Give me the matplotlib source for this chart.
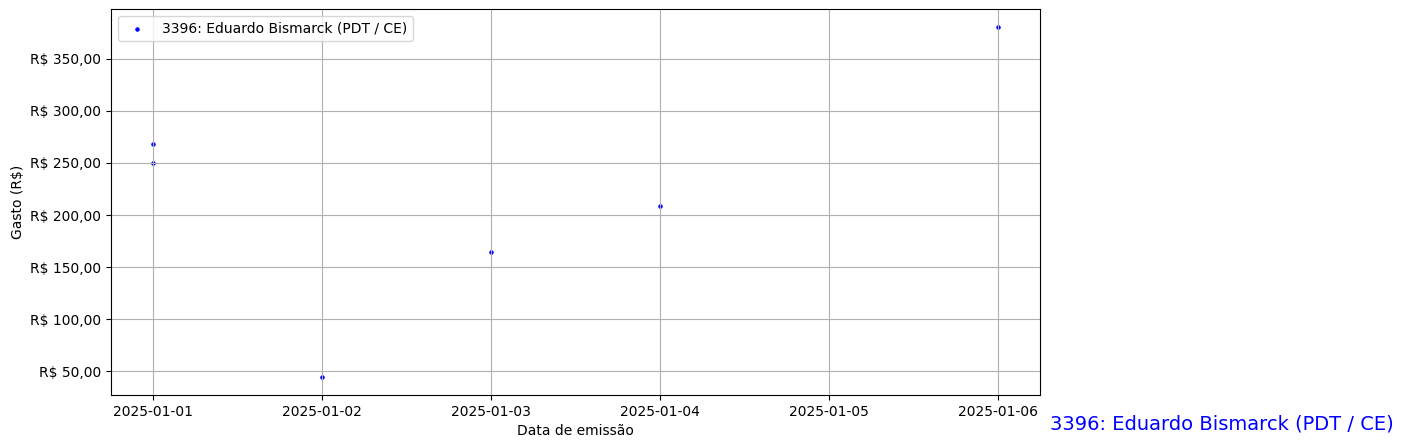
import numpy as np
import pandas as pd
import matplotlib
matplotlib.use('Agg')
import matplotlib.pyplot as plt
import matplotlib.dates as mdates
from matplotlib.ticker import FuncFormatter

deputado = '3396: Eduardo Bismarck (PDT / CE)'
datas = pd.to_datetime(['2025-01-01', '2025-01-01', '2025-01-02',
                        '2025-01-03', '2025-01-04', '2025-01-06'])
gastos = [268.3, 250.0, 44.2, 164.4, 208.7, 380.8]

def reais(v, pos):
    s = '{:,.2f}'.format(v).replace(',', 'X').replace('.', ',').replace('X', '.')
    return 'R$ ' + s

fig = plt.figure(figsize=(14.02, 4.48), dpi=100)
ax = fig.add_axes([111/1402, 53/448, 929/1402, 386/448])
ax.scatter(datas, gastos, s=5, color='blue', label=deputado)
ax.yaxis.set_major_formatter(FuncFormatter(reais))
ax.xaxis.set_major_locator(mdates.DayLocator())
ax.xaxis.set_major_formatter(mdates.DateFormatter('%Y-%m-%d'))
ax.set_xlabel('Data de emissão')
ax.set_ylabel('Gasto (R$)')
ax.grid(True)
ax.legend(loc='upper left')
fig.text(1050/1402, 1 - 424/448, deputado, color='blue', fontsize=14, va='center')
fig.savefig('out.png', dpi=100)
